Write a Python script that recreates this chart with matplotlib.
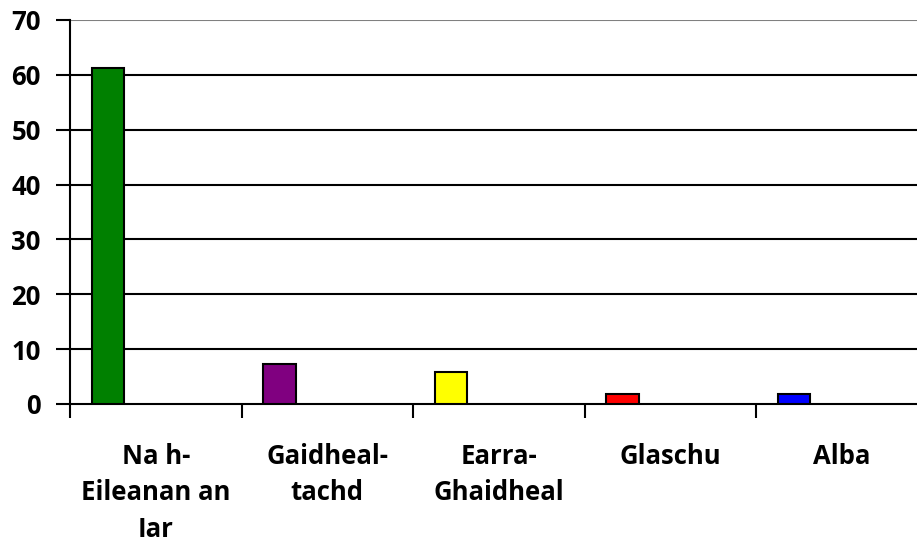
import numpy as np
import matplotlib
matplotlib.use("Agg")
import matplotlib.pyplot as plt

# values
areas = ["Na h-\nEileanan an\nIar", "Gaidheal-\ntachd", "Earra-\nGhaidheal",
         "Glaschu", "Alba"]
values = [61.2, 7.3, 5.9, 1.9, 1.9]
barColours = ["#008000", "#800080", "#ffff00", "#ff0000", "#0000ff"]
yTicks = [0, 10, 20, 30, 40, 50, 60, 70]

plt.rcParams['font.family'] = ['Open Sans', 'DejaVu Sans']
plt.rcParams['font.weight'] = 'bold'

fig = plt.figure(figsize=(9.17, 5.44), dpi=100)
# plot area runs a little past the right edge, as in the reference
ax = fig.add_axes([70 / 917, 140 / 544, 857.5 / 917, 384 / 544])

x = np.arange(len(areas))
# bars sit in the left part of each category slot
ax.bar(x + 0.221, values, width=0.19, color=barColours,
       edgecolor="black", linewidth=1.5, zorder=3)

ax.set_xlim(0, len(areas))
ax.set_ylim(0, 70)
ax.set_yticks(yTicks)
ax.set_yticklabels([str(t) for t in yTicks], fontsize=18.5, fontweight='bold')

# tick marks on category boundaries, labels centred in each slot
ax.set_xticks(np.arange(len(areas) + 1))
ax.set_xticklabels([])
ax.set_xticks(x + 0.5, minor=True)
ax.set_xticklabels(areas, minor=True, fontsize=18.5, fontweight='bold',
                   linespacing=1.45, va='top')
ax.tick_params(axis='x', which='minor', length=0, pad=28)
ax.tick_params(axis='x', which='major', length=10, width=1.5, direction='out')
ax.tick_params(axis='y', length=10, width=1.5, direction='out', pad=11)

for t in yTicks[1:]:
    ax.axhline(t, color="black" if t < 70 else "#808080", linewidth=1.5, zorder=1)

for side in ["top", "right"]:
    ax.spines[side].set_visible(False)
ax.spines["left"].set_linewidth(1.5)
ax.spines["bottom"].set_linewidth(1.5)

plt.savefig("out.png", dpi=100)
